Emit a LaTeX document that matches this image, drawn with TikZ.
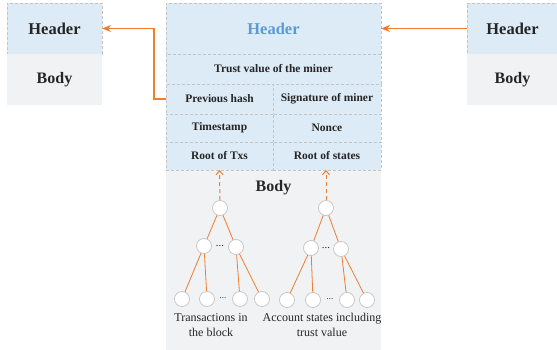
\documentclass[tikz,border=0pt]{standalone}
\usepackage{fontspec}
\setmainfont{Liberation Serif}
\usetikzlibrary{arrows.meta}
\definecolor{hdrblue}{HTML}{DDEBF7}
\definecolor{bodygray}{HTML}{F1F2F4}
\definecolor{dashgray}{HTML}{C4C4C4}
\definecolor{orng}{HTML}{ED7D31}
\definecolor{txtblue}{HTML}{5B9BD5}
\definecolor{txtdark}{HTML}{262626}
\begin{document}
\begin{tikzpicture}[x=1pt,y=-1pt,
  cell/.style={draw=dashgray,dash pattern=on 3pt off 2pt,line width=0.6pt,fill=hdrblue,
    inner sep=0pt,outer sep=0pt,font=\bfseries\fontsize{11.5}{13}\selectfont,text=txtdark},
  bodycell/.style={fill=bodygray,draw=none,inner sep=0pt,outer sep=0pt,
    font=\bfseries\fontsize{16}{18}\selectfont,text=txtdark},
  bigtxt/.style={font=\bfseries\fontsize{16.5}{18}\selectfont},
  tn/.style={circle,draw=dashgray,fill=white,line width=0.7pt,minimum size=15pt,inner sep=0pt},
  tl/.style={draw=orng,line width=0.8pt},
  link/.style={draw=orng,line width=1.6pt,-{Stealth[length=9pt,width=7pt]}},
  dlink/.style={draw=orng,line width=1pt,dash pattern=on 4pt off 3pt,-{Straight Barb[length=4pt,width=7pt]}},
  lab/.style={font=\fontsize{12}{15}\selectfont,text=txtdark,align=center},
  dots/.style={font=\fontsize{9}{9}\selectfont,text=txtdark,inner sep=0pt}
]
\useasboundingbox (0,0) rectangle (557,350);
% left block
\node[cell,bigtxt,minimum width=95pt,minimum height=51pt] (lh) at (54.5,28.5) {Header};
\node[bodycell,minimum width=95pt,minimum height=51pt] (lb) at (54.5,79.5) {Body};
% right block
\node[cell,bigtxt,minimum width=91pt,minimum height=51pt] (rh) at (512.5,28.5) {Header};
\node[bodycell,minimum width=91pt,minimum height=51pt] (rb) at (512.5,79.5) {Body};
% middle block
\node[bodycell,minimum width=215pt,minimum height=180pt,anchor=north west] (mb) at (166,170) {};
\node[bodycell] (mbt) at (273.5,188) {Body};
\node[cell,bigtxt,text=txtblue,minimum width=215pt,minimum height=51pt] (mh) at (273.5,28.5) {Header};
\node[cell,minimum width=215pt,minimum height=30pt] (trust) at (273.5,69) {Trust value of the miner};
\node[cell,minimum width=107pt,minimum height=30pt] (prev) at (219.5,99) {Previous hash};
\node[cell,minimum width=108pt,minimum height=30pt] (sig) at (327,99) {Signature of miner};
\node[cell,minimum width=107pt,minimum height=28pt] (ts) at (219.5,128) {Timestamp};
\node[cell,minimum width=108pt,minimum height=28pt] (nonce) at (327,128) {Nonce};
\node[cell,minimum width=107pt,minimum height=28pt] (rtx) at (219.5,156) {Root of Txs};
\node[cell,minimum width=108pt,minimum height=28pt] (rst) at (327,156) {Root of states};
% links between blocks
\coordinate (bend) at (154,99);
\draw[link] (prev.west) -- (bend) |- (lh.east);
\draw[link] (rh.west) -- (mh.east);
% left tree
\node[tn] (ra) at (220,208) {};
\node[tn] (a1) at (204,246) {};
\node[tn] (a2) at (236,247) {};
\node[dots,font=\fontsize{11}{11}\selectfont] (ad) at (220,246) {...};
\node[tn] (a11) at (182,299) {};
\node[tn] (a12) at (207,299) {};
\node[tn] (a21) at (240,299) {};
\node[tn] (a22) at (262,299) {};
\node[dots] (add) at (223,298) {...};
\draw[tl] (ra) -- (a1); \draw[tl] (ra) -- (a2);
\draw[tl] (a1) -- (a11); \draw[tl] (a1) -- (a12);
\draw[tl] (a2) -- (a21); \draw[tl] (a2) -- (a22);
% right tree
\node[tn] (rb0) at (326,208) {};
\node[tn] (b1) at (311,248) {};
\node[tn] (b2) at (341,249) {};
\node[dots,font=\fontsize{11}{11}\selectfont] (bd) at (326,248) {...};
\node[tn] (b11) at (287,300) {};
\node[tn] (b12) at (313,300) {};
\node[tn] (b21) at (347,300) {};
\node[tn] (b22) at (367,300) {};
\node[dots] (bdd) at (330,299) {...};
\draw[tl] (rb0) -- (b1); \draw[tl] (rb0) -- (b2);
\draw[tl] (b1) -- (b11); \draw[tl] (b1) -- (b12);
\draw[tl] (b2) -- (b21); \draw[tl] (b2) -- (b22);
% dashed links up
\draw[dlink] (ra) -- (rtx.south);
\draw[dlink] (rb0) -- (rb0 |- rst.south);
% labels
\node[lab] (lt) at (211,325) {Transactions in\\the block};
\node[lab] (rt) at (322,325) {Account states including\\trust value};
\end{tikzpicture}
\end{document}
